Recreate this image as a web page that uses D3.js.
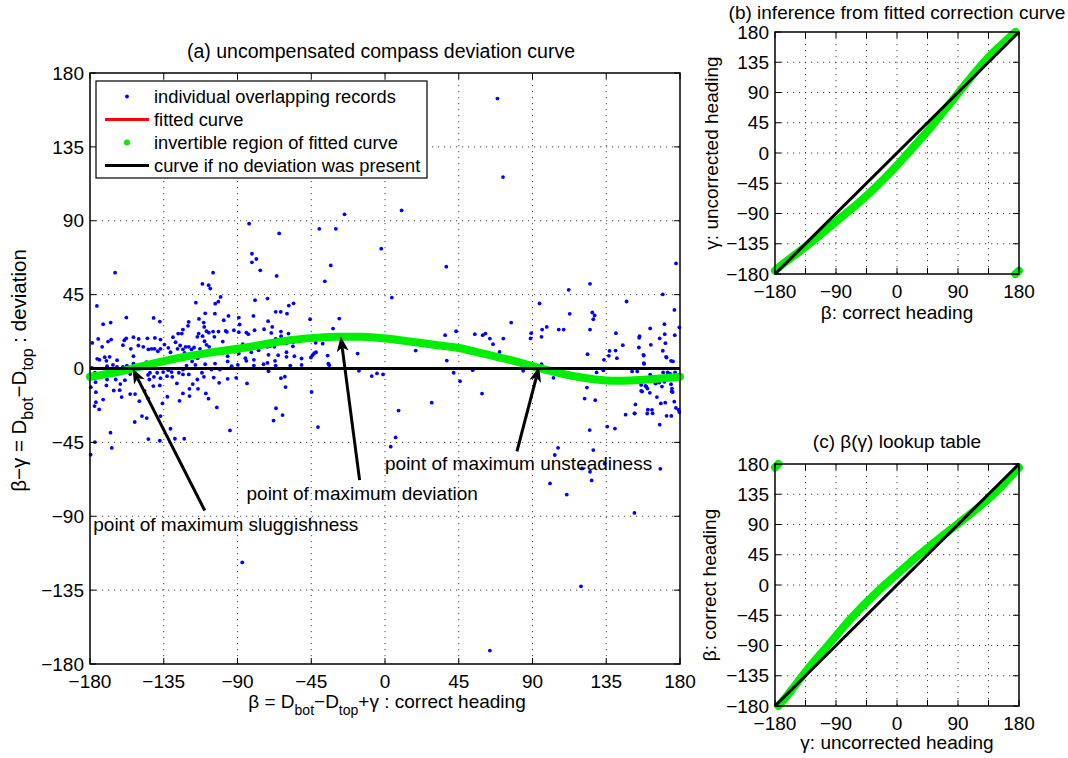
<!DOCTYPE html>
<html>
<head>
<meta charset="utf-8">
<script src="https://cdn.jsdelivr.net/npm/d3@7"></script>
<style>
  body { margin: 0; background: #fff; }
  text { font-family: "Liberation Sans", Arial, Helvetica, sans-serif; fill: #000; }
</style>
</head>
<body>
<div id="chart"></div>
<script>
// ---- data ----
// (a) individual overlapping records: [beta, deviation]
var records = [
  [68.6,164.4],[72,116.6],[-24.7,93.9],[10.1,96.3],[-82.9,88.2],[-64.6,82.3],[-40.1,85.1],[-30,85.1],
  [-2.3,73],[37.4,62],[-81.2,69.9],[-78.5,66.7],[-81.2,64.7],[-76.1,59.8],[-33.1,62.8],[-36.7,53.1],
  [-66.1,56.4],[-164.7,58.4],[-104.9,58.4],[-111.4,51.5],[-107.6,50.7],[-106.6,48.7],[-100.3,43.6],
  [-103.6,39.5],[-101.7,40.7],[-115.4,40.1],[-71.7,42.6],[-79.3,41.6],[4.2,43.2],[-175.8,38.1],
  [-55.8,39.7],[-58.7,38.3],[-66.7,34.5],[-63.6,34.5],[-59.8,33.4],[-45.7,30],[-27.9,30.4],[-31.7,24.3],
  [77,28],[43.4,22.7],[36.7,20.3],[54.8,20.9],[59.6,20.3],[61.3,21.3],[64,18.2],[65.9,14.8],[72.2,18.2],
  [89.2,21.5],[-157.8,31],[-172,27],[-167.4,28],[-141.2,30.8],[-137.4,28.6],[-119.8,28.4],[-120.2,26],
  [-113.5,30.2],[-109.7,33.6],[-110.6,28],[-110.3,25.3],[-103.8,33.4],[-98.4,29.4],[-95.5,32],[-89.2,31],
  [-88.7,26.8],[-80.3,32],[-71.3,28.8],[-73.8,23.9],[-68.8,25.3],
  [-175,18],[-169,16.4],[-167.1,17.6],[-159.1,17.2],[-157.9,18.4],[-153.5,19.1],[-150.3,18],[-145,18.4],
  [-140.4,18.6],[-137,17.6],[-129.4,19.1],[-124,21.3],[-126.2,21.3],[-123.3,23.7],[-114.5,19.3],
  [-113.7,21.3],[-111.3,19.7],[-110.1,16.6],[-108.9,22.7],[-104.9,22.5],[-104.1,19.3],[-101.6,22.5],
  [-99,16.4],[-97.2,22.9],[-92.2,23.3],[-84.6,21.9],[-79.6,23.3],[-66.7,18],[-70.1,13.6],[-67.5,13.2],
  [-65.1,17.2],[-107.5,21.8],[-96.5,22.3],[-89.2,22.1],[-83.4,20.9],[-69.4,21.7],[-63.4,19.7],[-58.9,21.3],
  [-55.3,7.5],[-63.5,22.5],
  [-178.6,15.6],[-172.6,13.2],[-175.6,5.9],[-174.2,5.3],[-171,6.9],[-170,4.7],[-168,7.1],[-163.5,5.1],
  [-166,2.2],[-159.9,14.2],[-155.1,12],[-153.5,7.5],[-150.5,14],[-147.5,13.2],[-144.4,11.6],[-142.4,12],
  [-140.6,12],[-138.6,10.5],[-137,12],[-134.6,14.6],[-132.2,12.6],[-130.9,9.9],[-127.8,16],[-126.6,12],
  [-125,14],[-123.3,11.6],[-121.7,13.2],[-119.7,13.2],[-118.1,11.6],[-116.5,12.8],[-122.3,9.5],
  [-119.7,8.3],[-117.3,7.5],[-115.3,9.1],[-114.3,6.3],[-112.9,12],[-111.3,9.1],[-108.9,14.4],[-107.3,13.2],
  [-105.7,10.3],[-102.8,11.1],[-100.8,9.5],[-98.2,12],[-96,7.5],[-94.4,12],[-91.6,10.3],[-89.2,9.1],
  [-86.8,14.8],[-85.2,6.3],[-83.6,12.4],[-81.6,9.9],[-80,5.3],[-77.1,11.1],[-75.1,14.8],[-72.5,16],
  [-71.9,13.2],[-71.1,8.3],[-67.1,4.7],
  [-178.8,0.4],[-177,-2.6],[-171.6,-2.6],[-169.6,1.4],[-163.5,1],[-159.9,1],[-157.5,1.8],[-153.5,3],
  [-148.3,1.8],[-145.5,3.9],[-143.4,-2.6],[-140.6,0.2],[-139,-2.6],[-135.4,-2.2],[-132.2,-1],[-130.2,-2.2],
  [-127.8,5.1],[-125.8,-2.6],[-123.3,-0.6],[-121.1,1.8],[-117.7,4.3],[-115.7,2.2],[-111.7,-2.6],
  [-109.7,2.6],[-105.9,-0.6],[-103.7,3],[-100.8,-0.6],[-96,4.3],[-93.6,1.4],[-89.8,2.2],[-84.6,4.7],
  [-80,1.8],[-74.1,2.6],[-71.7,3.4],[-66.7,1.8],[-71.1,-1.6],
  [-179.2,-5.1],[-176.6,-8.3],[-169.6,-6.7],[-170,-10.3],[-164.3,-6.7],[-161.5,-9.5],[-158.7,-7.1],
  [-155.5,-3.4],[-144.6,-3.9],[-143.8,-6.7],[-141,-5.1],[-137,-5.9],[-133,-4.7],[-129.8,-5.1],
  [-123.3,-3.6],[-119.7,-3.6],[-117.3,-9.5],[-114.5,-6.7],[-110.5,-5.1],[-104.5,-5.5],[-101.2,-8.7],
  [-96,-6.3],[-90.8,-5.7],[-84.2,-9.1],[-179.5,-11.4],[-176.4,-14.4],[-172,-18.9],[-165.5,-13.4],
  [-161.9,-13.2],[-176.4,-20.5],[-177.2,-22.9],[-174.4,-24.9],[-160.7,-17.4],[-155.5,-15.6],
  [-152.5,-15.6],[-149.9,-19.9],[-146.7,-13.6],[-144.4,-18.4],[-141.4,-10.7],[-137.4,-10.3],
  [-135.8,-21.3],[-132.8,-17.2],[-127,-9.1],[-125.4,-19.7],[-123.3,-15.2],[-119.3,-16.8],[-119.3,-12.4],
  [-114.1,-12.4],[-109.3,-15.2],[-107.7,-18.4],[-102.6,-23.7],[-148.3,-29],[-145.4,-30.2],[-152.7,-32.6],
  [-137,-29],[-130.9,-36.7],[-137.4,-44],[-144.4,-43],[-128.2,-42.8],[-122.5,-42.8],[-94.6,-37.7],
  [-167.5,-39.1],[-166.7,-48.4],[-177,-44.8],[-179.6,-52.5],
  [-68,-31.7],[-62.5,-28.4],[-66.5,-24.2],[-63.5,-5.9],[-61.1,-5],[-60.7,-11.3],
  [-87.1,-118.1],[64,-171.8],[59.2,-15.3],[84.3,-1.4],
  [-56,15.9],[-60.3,15.3],[-56.2,13.5],[-42.3,15.7],[-38,15.1],[-65.2,8.1],[-60.1,9.9],[-60.1,7.1],
  [-57.8,1.8],[-50.9,6.1],[-50.9,2.2],[-45.2,6.7],[-44.2,8.1],[-43.2,9.3],[-42.1,9.9],[-35,7.9],
  [-34.6,3],[-34,2],[-16.7,9.1],[-15.9,-1.4],[-8.1,-4.6],[-4.9,-3],[-1.2,-3.6],[-44.8,-14.3],
  [-40.9,-35.7],[8.3,-25.6],[28.5,-20.8],[18.7,10.9],[37.7,4.8],[41.9,-2.6],[45.8,-7.7],[53.5,-1],
  [6.5,-42],[3.5,-47.6],
  [177.6,64],[169.5,45.1],[147.4,40.8],[176.6,35.7],[112.1,47.9],[125.1,51.6],[94.3,39.6],[112.7,33.3],
  [126.5,34.1],[127.9,32.3],[127.1,30],[69.9,10.1],[88.8,18.3],[95.9,23.7],[95.5,19.3],[98.7,25.3],
  [106,23.7],[109,23.7],[125.1,23.7],[123.6,8.7],[140.9,21.5],[137,10.7],[140.7,10.9],[136.6,7.7],
  [141.5,6.3],[145.1,14.2],[155.3,19.7],[155.1,18.7],[154.9,12.8],[157.7,8.3],[161.8,24.4],[162.2,14.4],
  [167.6,18.3],[170.5,27],[170.7,20.9],[171.1,15.4],[171.5,7.1],[176.8,20.3],
  [95.5,2.6],[102.8,-5.7],[129.1,-2.4],[133.2,-1.2],[133.6,5.3],[157.9,3.3],[169.5,10.8],[174.5,4.7],
  [177,-2.4],[123.2,-11.6],[121.8,-18.3],[128.3,-19.3],[124.9,-37.5],[135.6,-35.4],[140.3,-36.6],
  [146.8,-28.1],[152.2,-27.3],[150.8,-1.8],[153.9,-1.8],[156.3,-13.6],[158.9,-10.6],[161.8,-3.7],
  [162.4,-4.9],[163.6,-6.5],[165,-9.2],[166.2,-8.6],[167.4,-8.6],[169,-11],[169.7,-2.4],[170.5,-8.1],
  [172.5,-2.4],[173.9,-3.1],[174.5,-9.6],[175.1,-12.2],[175.5,-14.3],[156.3,-10],[162.9,-25.2],
  [163.3,-27.3],[171,-20.8],[174.7,-28.9],[176.5,-20.2],[177.5,-24],[179.1,-25.2],[179.6,-26.5],
  [167.6,-34.2],[105.6,-48.3],[103.6,-52.7],[100.7,-70],[110.9,-76.8],[120.2,-60.9],[125.1,-62.9],
  [127.1,-49.7],[126.1,-68.2],[134,-58],[152.2,-88],[168,-61.1],[119.6,-132.7],
  [179.6,25.1],[157.9,7.9],[171.8,6.7],[175.7,4.3],[158.1,2.8],[159.5,-11.1],[160.1,-12.2],[161.6,-14.8],
  [156.9,-14],[174.9,-14],[165.9,-17.4],[168.3,-21.3],[152.8,-21.9],[160.4,-25.1],[160,-27.4],
  [152.4,-27.4],[171.8,-28.8]
];

// (a) fitted deviation curve, sampled every 15 degrees of beta
var curveBeta = [-180,-165,-150,-135,-120,-105,-90,-75,-60,-45,-30,-15,0,15,30,45,60,75,90,105,120,135,150,165,180];
var curveDev  = [-5,-2.5,1,4.5,7.5,10,12,14.5,17,18.5,19.3,19.3,18.3,16.5,14.5,12.5,9,5.5,1.5,-2.5,-5.5,-7.3,-7.3,-6.3,-5];

// (b)/(c) lookup table: correct heading beta vs uncorrected heading gamma
var lutBeta  = [-180,-165,-150,-135,-120,-105,-90,-75,-60,-45,-30,-15,0,15,30,45,60,75,90,105,120,135,150,165,174.7];
var lutGamma = [-175,-162.5,-151,-139.5,-127.5,-115,-102,-89.5,-77,-63.5,-49.3,-34.3,-18.3,-1.5,15.5,32.5,51,69.5,88.5,107.5,125.5,142.3,157.3,171.3,180];
// wrapped-around piece near the +/-180 seam
var wrapBeta  = [174.7, 180];
var wrapGamma = [-180, -175];

var ticks45 = [-180,-135,-90,-45,0,45,90,135,180];
var ticks90 = [-180,-90,0,90,180];

var notes = [
  { text: "point of maximum sluggishness", tx: -178, ty: -95, tail: [-110, -86.5], tip: [-154, 0] },
  { text: "point of maximum deviation",    tx: -84.5, ty: -76, tail: [-15.5, -68], tip: [-27, 19.5] },
  { text: "point of maximum unsteadiness", tx: 0, ty: -57.5, tail: [80.5, -50.5], tip: [94, 1] }
];

var legendItems = [
  { label: "individual overlapping records", kind: "dot", color: "#0000ff" },
  { label: "fitted curve", kind: "line", color: "#ff0000" },
  { label: "invertible region of fitted curve", kind: "dot", color: "#00ee00" },
  { label: "curve if no deviation was present", kind: "line", color: "#000000" }
];

// ---- layout ----
var W = 1068, H = 758;
var FS = 19;
var GREEN = "#00ee00";
var boxA = { left: 90, right: 680, top: 73, bottom: 664 };
var boxB = { left: 775, right: 1019, top: 32, bottom: 274 };
var boxC = { left: 775, right: 1019, top: 464, bottom: 706 };

var svg = d3.select("#chart").append("svg")
  .attr("width", W).attr("height", H);

function minus(v) { return v < 0 ? "\u2212" + Math.abs(v) : String(v); }

// scales + dotted grid
function axesFrame(box, xLabelTicks, yLabelTicks) {
  var x = d3.scaleLinear().domain([-180, 180]).range([box.left, box.right]);
  var y = d3.scaleLinear().domain([-180, 180]).range([box.bottom, box.top]);
  var grid = svg.append("g").attr("stroke", "#444").attr("stroke-width", 1)
    .attr("stroke-dasharray", "1.2,4.8");
  grid.selectAll("line.gx").data(ticks45.slice(1, -1)).enter().append("line")
    .attr("x1", d => x(d)).attr("x2", d => x(d)).attr("y1", box.top).attr("y2", box.bottom);
  grid.selectAll("line.gy").data(ticks45.slice(1, -1)).enter().append("line")
    .attr("y1", d => y(d)).attr("y2", d => y(d)).attr("x1", box.left).attr("x2", box.right);
  return { x: x, y: y, box: box, xLabelTicks: xLabelTicks, yLabelTicks: yLabelTicks };
}

// box, inward ticks on all four sides, tick labels
function axesTop(ax) {
  var box = ax.box, x = ax.x, y = ax.y;
  var g = svg.append("g");
  var tl = 6;
  var ticks = g.append("g").attr("stroke", "#000").attr("stroke-width", 1);
  ticks45.forEach(function(t) {
    ticks.append("line").attr("x1", x(t)).attr("x2", x(t)).attr("y1", box.bottom).attr("y2", box.bottom - tl);
    ticks.append("line").attr("x1", x(t)).attr("x2", x(t)).attr("y1", box.top).attr("y2", box.top + tl);
    ticks.append("line").attr("y1", y(t)).attr("y2", y(t)).attr("x1", box.left).attr("x2", box.left + tl);
    ticks.append("line").attr("y1", y(t)).attr("y2", y(t)).attr("x1", box.right).attr("x2", box.right - tl);
  });
  g.append("rect").attr("x", box.left).attr("y", box.top)
    .attr("width", box.right - box.left).attr("height", box.bottom - box.top)
    .attr("fill", "none").attr("stroke", "#000").attr("stroke-width", 1.5);
  g.selectAll("text.xt").data(ax.xLabelTicks).enter().append("text")
    .attr("x", d => x(d)).attr("y", box.bottom + 24)
    .attr("text-anchor", "middle").attr("font-size", FS).text(minus);
  g.selectAll("text.yt").data(ax.yLabelTicks).enter().append("text")
    .attr("x", box.left - 6).attr("y", d => y(d)).attr("dy", "0.35em")
    .attr("text-anchor", "end").attr("font-size", FS).text(minus);
}

// text with subscripts: parts = [[string, isSub], ...]
function richText(sel, parts, subSize, shift) {
  var down = false;
  parts.forEach(function(p) {
    var ts = sel.append("tspan").text(p[0]);
    if (p[1]) {
      ts.attr("font-size", subSize);
      if (!down) { ts.attr("dy", shift); down = true; }
    } else if (down) { ts.attr("dy", -shift); down = false; }
  });
  return sel;
}

// ---------- (a) ----------
var a = axesFrame(boxA, ticks45, ticks45);

svg.append("g").selectAll("circle").data(records).enter().append("circle")
  .attr("cx", d => a.x(d[0])).attr("cy", d => a.y(d[1]))
  .attr("r", 1.9).attr("fill", "#0000ff");

var curveA = d3.line().x(d => a.x(d[0])).y(d => a.y(d[1])).curve(d3.curveCatmullRom);
var devPts = curveBeta.map((b, i) => [b, curveDev[i]]);
svg.append("path").attr("d", curveA(devPts)).attr("fill", "none")
  .attr("stroke", "#ff0000").attr("stroke-width", 2);
svg.append("path").attr("d", curveA(devPts)).attr("fill", "none")
  .attr("stroke", GREEN).attr("stroke-width", 8).attr("stroke-linecap", "round");
svg.append("line").attr("x1", a.x(-180)).attr("x2", a.x(180))
  .attr("y1", a.y(0)).attr("y2", a.y(0)).attr("stroke", "#000").attr("stroke-width", 3);

axesTop(a);

svg.append("text").attr("x", (boxA.left + boxA.right) / 2 - 4).attr("y", 58)
  .attr("text-anchor", "middle").attr("font-size", 19.5)
  .text("(a) uncompensated compass deviation curve");
richText(svg.append("text").attr("x", (boxA.left + boxA.right) / 2 + 2).attr("y", 708)
  .attr("text-anchor", "middle").attr("font-size", FS),
  [["\u03b2 = D", 0], ["bot", 1], ["\u2212D", 0], ["top", 1], ["+\u03b3 : correct heading", 0]], 14, 7);
richText(svg.append("text")
  .attr("transform", "translate(26," + ((boxA.top + boxA.bottom) / 2 + 2) + ") rotate(-90)")
  .attr("text-anchor", "middle").attr("font-size", 20.5),
  [["\u03b2\u2212\u03b3 = D", 0], ["bot", 1], ["\u2212D", 0], ["top", 1], [" : deviation", 0]], 16, 7);

// legend
var leg = svg.append("g").attr("transform", "translate(" + (boxA.left + 6) + "," + (boxA.top + 8) + ")");
leg.append("rect").attr("width", 331).attr("height", 97)
  .attr("fill", "#fff").attr("stroke", "#000").attr("stroke-width", 1.2);
legendItems.forEach(function(it, i) {
  var yy = 15.5 + i * 23;
  if (it.kind === "line") {
    leg.append("line").attr("x1", 9).attr("x2", 53).attr("y1", yy).attr("y2", yy)
      .attr("stroke", it.color).attr("stroke-width", 3);
  } else {
    leg.append("circle").attr("cx", 31).attr("cy", yy)
      .attr("r", it.color === GREEN ? 3 : 1.9).attr("fill", it.color);
  }
  leg.append("text").attr("x", 58).attr("y", yy).attr("dy", "0.35em")
    .attr("font-size", 18.3).text(it.label);
});

// annotations with arrows
var ann = svg.append("g");
notes.forEach(function(n) {
  var p0 = [a.x(n.tail[0]), a.y(n.tail[1])], p1 = [a.x(n.tip[0]), a.y(n.tip[1])];
  var dx = p1[0] - p0[0], dy = p1[1] - p0[1], len = Math.hypot(dx, dy);
  var ux = dx / len, uy = dy / len, nx = -uy, ny = ux;
  var L = 15, Wd = 6, notch = 4;
  var back = [p1[0] - ux * (L - notch), p1[1] - uy * (L - notch)];
  ann.append("line").attr("x1", p0[0]).attr("y1", p0[1]).attr("x2", back[0]).attr("y2", back[1])
    .attr("stroke", "#000").attr("stroke-width", 3);
  ann.append("polygon").attr("points", [
    p1,
    [p1[0] - ux * L + nx * Wd, p1[1] - uy * L + ny * Wd],
    back,
    [p1[0] - ux * L - nx * Wd, p1[1] - uy * L - ny * Wd]
  ].map(p => p.join(",")).join(" ")).attr("fill", "#000");
  ann.append("text").attr("x", a.x(n.tx)).attr("y", a.y(n.ty)).attr("dy", "0.35em")
    .attr("font-size", FS).text(n.text);
});

// ---------- (b) ----------
var b = axesFrame(boxB, ticks90, ticks45);
var lineB = d3.line().x(d => b.x(d[0])).y(d => b.y(d[1])).curve(d3.curveCatmullRom);
var lutPts = lutBeta.map((v, i) => [v, lutGamma[i]]);
var wrapPts = wrapBeta.map((v, i) => [v, wrapGamma[i]]);
svg.append("path").attr("d", lineB(lutPts)).attr("fill", "none")
  .attr("stroke", GREEN).attr("stroke-width", 8).attr("stroke-linecap", "round");
svg.append("path").attr("d", lineB(wrapPts)).attr("fill", "none")
  .attr("stroke", GREEN).attr("stroke-width", 8).attr("stroke-linecap", "round");
svg.append("line").attr("x1", b.x(-180)).attr("y1", b.y(-180)).attr("x2", b.x(180)).attr("y2", b.y(180))
  .attr("stroke", "#000").attr("stroke-width", 3);
axesTop(b);
svg.append("text").attr("x", (boxB.left + boxB.right) / 2).attr("y", 19)
  .attr("text-anchor", "middle").attr("font-size", FS)
  .text("(b) inference from fitted correction curve");
svg.append("text").attr("x", (boxB.left + boxB.right) / 2).attr("y", 319)
  .attr("text-anchor", "middle").attr("font-size", FS).text("\u03b2: correct heading");
svg.append("text")
  .attr("transform", "translate(718," + (boxB.top + boxB.bottom) / 2 + ") rotate(-90)")
  .attr("text-anchor", "middle").attr("font-size", FS).text("\u03b3: uncorrected heading");

// ---------- (c) ----------
var c = axesFrame(boxC, ticks90, ticks45);
var lineC = d3.line().x(d => c.x(d[1])).y(d => c.y(d[0])).curve(d3.curveCatmullRom);
svg.append("path").attr("d", lineC(lutPts)).attr("fill", "none")
  .attr("stroke", GREEN).attr("stroke-width", 8).attr("stroke-linecap", "round");
svg.append("path").attr("d", lineC(wrapPts)).attr("fill", "none")
  .attr("stroke", GREEN).attr("stroke-width", 8).attr("stroke-linecap", "round");
svg.append("line").attr("x1", c.x(-180)).attr("y1", c.y(-180)).attr("x2", c.x(180)).attr("y2", c.y(180))
  .attr("stroke", "#000").attr("stroke-width", 3);
axesTop(c);
svg.append("text").attr("x", (boxC.left + boxC.right) / 2).attr("y", 448)
  .attr("text-anchor", "middle").attr("font-size", FS).text("(c) \u03b2(\u03b3) lookup table");
svg.append("text").attr("x", (boxC.left + boxC.right) / 2).attr("y", 749)
  .attr("text-anchor", "middle").attr("font-size", FS).text("\u03b3: uncorrected heading");
svg.append("text")
  .attr("transform", "translate(716," + (boxC.top + boxC.bottom) / 2 + ") rotate(-90)")
  .attr("text-anchor", "middle").attr("font-size", FS).text("\u03b2: correct heading");
</script>
</body>
</html>
